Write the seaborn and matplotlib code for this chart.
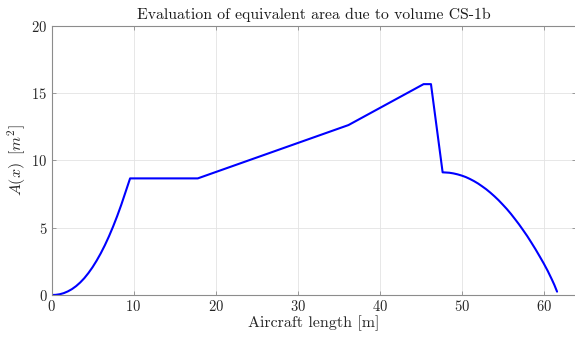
import matplotlib
matplotlib.use("Agg")
import matplotlib.pyplot as plt
import seaborn as sns
import pandas as pd

# Equivalent area distribution along the fuselage (CS-1b volume)
nose_x = [0.0, 0.5, 1.0, 1.5, 2.0, 2.5, 3.0, 3.5, 4.0, 4.5, 5.0, 5.5, 6.0,
          6.5, 7.0, 7.5, 8.0, 8.5, 9.0, 9.58]
nose_area = [0.0, 0.01, 0.055, 0.14, 0.27, 0.44, 0.66, 0.93, 1.25, 1.63,
             2.06, 2.55, 3.09, 3.69, 4.35, 5.07, 5.85, 6.69, 7.60, 8.66]

mid_x = [17.83, 36.2, 45.36, 46.26, 47.68]
mid_area = [8.66, 12.62, 15.66, 15.66, 9.11]

tail_x = [48.0, 48.5, 49.0, 49.5, 50.0, 50.5, 51.0, 51.5, 52.0, 52.5, 53.0,
          53.5, 54.0, 54.5, 55.0, 55.5, 56.0, 56.5, 57.0, 57.5, 58.0, 58.5,
          59.0, 59.5, 60.0, 60.5, 61.0, 61.3, 61.63]
tail_area = [9.10, 9.08, 9.03, 8.96, 8.87, 8.76, 8.62, 8.46, 8.28, 8.07, 7.85,
             7.60, 7.33, 7.04, 6.72, 6.39, 6.03, 5.64, 5.24, 4.81, 4.37, 3.89,
             3.40, 2.88, 2.35, 1.78, 1.15, 0.75, 0.25]

x_ticks = [0, 10, 20, 30, 40, 50, 60]
y_ticks = [0, 5, 10, 15, 20]

df = pd.DataFrame({
    "x": nose_x + mid_x + tail_x,
    "A": nose_area + mid_area + tail_area,
})

sns.set_theme(style="whitegrid")
plt.rcParams.update({
    "font.family": "serif",
    "font.serif": ["cmr10", "DejaVu Serif"],
    "mathtext.fontset": "cm",
    "axes.formatter.use_mathtext": True,
    "axes.unicode_minus": False,
})

fig = plt.figure(figsize=(5.75, 3.39), dpi=100)
ax = fig.add_axes([51.5 / 575, 44 / 339, (576.5 - 51.5) / 575, (295 - 25.7) / 339])

sns.lineplot(data=df, x="x", y="A", ax=ax, color="#0000ff", linewidth=1.5,
             sort=False, estimator=None)

ax.set_xlim(0, 64)
ax.set_ylim(0, 20)
ax.set_xticks(x_ticks)
ax.set_yticks(y_ticks)

ax.set_facecolor("white")
ax.grid(True, color="#e3e3e3", linewidth=0.6)
for side, sp in ax.spines.items():
    sp.set_visible(True)
    sp.set_color("#8c8c8c")
    sp.set_linewidth(0.8)

ax.tick_params(axis="both", which="both", direction="in", length=3,
               width=0.6, color="#8c8c8c", labelsize=10.5,
               labelcolor="#262626", top=True, right=True, bottom=True,
               left=True, pad=3)

ax.set_title("Evaluation of equivalent area due to volume CS-1b",
             fontsize=11.3, color="#1a1a1a", pad=5)
ax.set_xlabel("Aircraft length [m]", fontsize=11.5, color="#262626", labelpad=1)
ax.set_ylabel(r"$A(x)\;\;[m^2]$", fontsize=11.5, color="#262626", labelpad=2)

fig.savefig("out.png", dpi=100)
